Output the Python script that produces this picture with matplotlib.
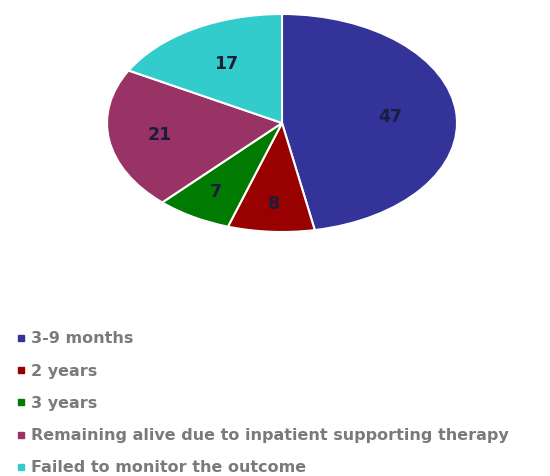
import matplotlib
matplotlib.use("Agg")
import numpy as np
import matplotlib.pyplot as plt
from matplotlib.lines import Line2D

categories = ["3-9 months", "2 years", "3 years",
              "Remaining alive due to inpatient supporting therapy",
              "Failed to monitor the outcome"]
values = [47, 8, 7, 21, 17]
colors = ["#333399", "#990000", "#007a00", "#993366", "#33cccc"]
label_dist = [0.62, 0.74, 0.74, 0.71, 0.63]

plt.rcParams['font.family'] = ['DejaVu Sans']

fig = plt.figure(figsize=(5.5, 4.76), dpi=100)
ax = fig.add_axes([107/550, 1-232/476, 350/550, 218/476])
wedges, texts = ax.pie(values, labels=[str(v) for v in values], colors=colors,
                       startangle=90, counterclock=False, labeldistance=0.6,
                       wedgeprops=dict(edgecolor="white", linewidth=1.5),
                       textprops=dict(color="#1c1c3c", fontsize=12.5, ha="center",
                                      va="center", fontweight="bold"))
for w, t, d in zip(wedges, texts, label_dist):
    ang = np.deg2rad((w.theta1 + w.theta2) / 2)
    t.set_position((d * np.cos(ang), d * np.sin(ang)))
ax.set_aspect('auto')
ax.set_xlim(-1.0, 1.0)
ax.set_ylim(-1.0, 1.0)
ax.axis('off')

handles = [Line2D([0], [0], marker='s', linestyle='none', markersize=4,
                  markerfacecolor=c, markeredgecolor=c) for c in colors]
leg = fig.legend(handles, categories, loc='upper left',
                 bbox_to_anchor=(10/550, 1-325/476), frameon=False,
                 fontsize=11.5, handlelength=0.6, handletextpad=0.3,
                 labelspacing=1.08, borderaxespad=0)
for t in leg.get_texts():
    t.set_color("#7a7a7a")
    t.set_fontweight("bold")

fig.savefig("out.png", dpi=100)
